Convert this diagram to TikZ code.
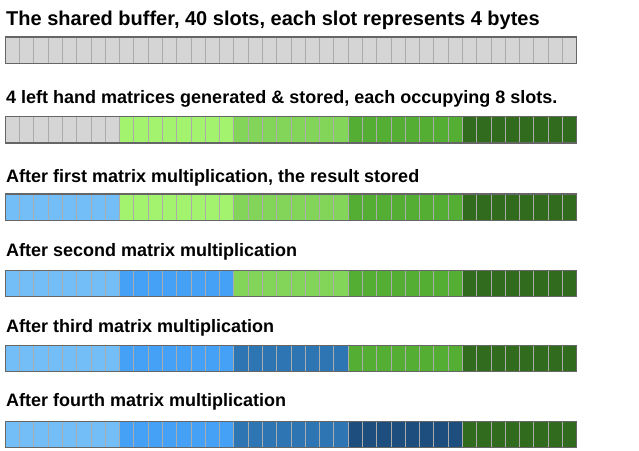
\documentclass[tikz,border=0pt]{standalone}
\usepackage{fontspec}
\setmainfont{Liberation Sans}
\definecolor{slotgray}{HTML}{D5D5D5}
\definecolor{divgray}{HTML}{ABABAB}
\definecolor{bordergray}{HTML}{666666}
\definecolor{gA}{HTML}{A3F36E}
\definecolor{gB}{HTML}{83D55A}
\definecolor{gC}{HTML}{55AE34}
\definecolor{gD}{HTML}{306B1E}
\definecolor{bA}{HTML}{73BEF7}
\definecolor{bB}{HTML}{45A1F5}
\definecolor{bC}{HTML}{2E75B4}
\definecolor{bD}{HTML}{1E4E7E}
\newcommand\bufferbar[6]{%
  \foreach \c [count=\i from 0] in {#2,#3,#4,#5,#6} {
    \fill[\c] ({5.3+\i*114.28},#1) rectangle ({5.3+(\i+1)*114.28},{#1+26.5});
  }
  \foreach \k in {1,...,39} {
    \draw[divider] ({5.3+\k*14.285},#1) -- ++(0,26.5);
  }
  \draw[barborder] (5.3,#1) rectangle ++(571.4,26.5);
}
\begin{document}
\begin{tikzpicture}[x=1pt,y=-1pt,
  lbl/.style={anchor=base west, inner sep=0pt, font=\fontsize{18}{20}\selectfont\bfseries},
  biglbl/.style={lbl, font=\fontsize{20}{22}\selectfont\bfseries},
  divider/.style={draw=divgray, line width=0.9pt},
  barborder/.style={draw=bordergray, line width=1.3pt}]
\useasboundingbox (0,0) rectangle (639,450);
\node[biglbl] (t1) at (6,25.3) {The shared buffer, 40 slots, each slot represents 4 bytes};
\node[lbl] (t2) at (6,103.3) {4 left hand matrices generated \& stored, each occupying 8 slots.};
\node[lbl] (t3) at (6,182.7) {After first matrix multiplication, the result stored};
\node[lbl] (t4) at (6,256.7) {After second matrix multiplication};
\node[lbl] (t5) at (6,332.4) {After third matrix multiplication};
\node[lbl] (t6) at (6,406.7) {After fourth matrix multiplication};
\bufferbar{37}{slotgray}{slotgray}{slotgray}{slotgray}{slotgray}
\bufferbar{116.5}{slotgray}{gA}{gB}{gC}{gD}
\bufferbar{194}{bA}{gA}{gB}{gC}{gD}
\bufferbar{270.3}{bA}{bB}{gB}{gC}{gD}
\bufferbar{345.2}{bA}{bB}{bC}{gC}{gD}
\bufferbar{421.2}{bA}{bB}{bC}{bD}{gD}
\end{tikzpicture}
\end{document}
